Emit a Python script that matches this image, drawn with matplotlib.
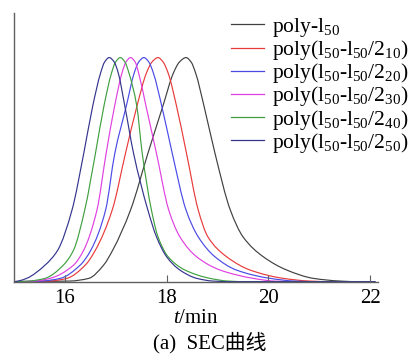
import matplotlib
matplotlib.use("Agg")
import matplotlib.pyplot as plt
from matplotlib.path import Path
from matplotlib.patches import PathPatch
from matplotlib.lines import Line2D

plt.rcParams['mathtext.fontset'] = 'custom'
plt.rcParams['mathtext.rm'] = 'Liberation Serif'
plt.rcParams['mathtext.it'] = 'Liberation Serif:italic'
plt.rcParams['font.family'] = ['Liberation Serif', 'Noto Sans CJK SC']

# Series labels (legend order)
labels = [
    r'poly-l$_\mathrm{50}$',
    r'poly(l$_\mathrm{50}$-l$_\mathrm{50}$/2$_\mathrm{10}$)',
    r'poly(l$_\mathrm{50}$-l$_\mathrm{50}$/2$_\mathrm{20}$)',
    r'poly(l$_\mathrm{50}$-l$_\mathrm{50}$/2$_\mathrm{30}$)',
    r'poly(l$_\mathrm{50}$-l$_\mathrm{50}$/2$_\mathrm{40}$)',
    r'poly(l$_\mathrm{50}$-l$_\mathrm{50}$/2$_\mathrm{50}$)',
]
colors = ['#404040', '#e83a3a', '#4a4ae6', '#e040e0', '#40a040', '#34348f']

# Read-off curve samples: elution time t (min) and normalised intensity
t_l50 = [15.0, 16.1, 16.47, 16.76, 16.94, 17.29, 17.63, 17.93, 18.13, 18.25, 18.38,
         18.48, 18.57, 18.73, 18.95, 19.25, 19.50, 19.90, 20.36, 20.88, 21.4, 21.8, 22.1]
y_l50 = [0.0, 0.003, 0.015, 0.074, 0.141, 0.32, 0.572, 0.787, 0.93, 0.98, 1.0,
         0.98, 0.93, 0.787, 0.572, 0.32, 0.20, 0.111, 0.052, 0.015, 0.003, 0.0, 0.0]

t_210 = [15.0, 15.7, 16.04, 16.40, 16.60, 16.93, 17.19, 17.42, 17.60, 17.71, 17.83,
         17.93, 18.03, 18.19, 18.39, 18.62, 18.81, 19.18, 19.64, 20.29, 20.8, 21.3, 22.1]
y_210 = [0.0, 0.003, 0.015, 0.074, 0.141, 0.32, 0.572, 0.787, 0.93, 0.98, 1.0,
         0.98, 0.93, 0.787, 0.572, 0.32, 0.20, 0.111, 0.052, 0.015, 0.003, 0.0, 0.0]

t_220 = [15.0, 15.55, 15.91, 16.30, 16.51, 16.80, 16.98, 17.21, 17.36, 17.45, 17.55,
         17.65, 17.74, 17.90, 18.11, 18.38, 18.62, 18.95, 19.37, 20.03, 20.5, 21.0, 22.1]
y_220 = [0.0, 0.003, 0.015, 0.074, 0.141, 0.32, 0.572, 0.787, 0.93, 0.98, 1.0,
         0.98, 0.93, 0.787, 0.572, 0.32, 0.20, 0.111, 0.052, 0.015, 0.003, 0.0, 0.0]

t_230 = [15.0, 15.4, 15.71, 16.17, 16.37, 16.63, 16.81, 16.98, 17.12, 17.20, 17.29,
         17.38, 17.45, 17.59, 17.80, 18.04, 18.26, 18.59, 19.05, 19.70, 20.1, 20.6, 22.1]
y_230 = [0.0, 0.003, 0.015, 0.074, 0.141, 0.32, 0.572, 0.787, 0.93, 0.98, 1.0,
         0.98, 0.93, 0.787, 0.572, 0.32, 0.20, 0.111, 0.052, 0.015, 0.003, 0.0, 0.0]

t_240 = [15.0, 15.3, 15.61, 15.97, 16.17, 16.39, 16.60, 16.77, 16.915, 16.995, 17.09,
         17.18, 17.26, 17.41, 17.52, 17.70, 17.83, 18.03, 18.36, 18.85, 19.2, 19.6, 22.1]
y_240 = [0.0, 0.003, 0.015, 0.074, 0.141, 0.32, 0.572, 0.787, 0.93, 0.98, 1.0,
         0.98, 0.93, 0.787, 0.572, 0.32, 0.20, 0.111, 0.052, 0.015, 0.003, 0.0, 0.0]

t_250 = [15.0, 15.1, 15.25, 15.61, 15.86, 16.14, 16.37, 16.55, 16.70, 16.78, 16.87,
         16.97, 17.05, 17.175, 17.35, 17.63, 17.80, 18.00, 18.26, 18.59, 18.9, 19.3, 22.1]
y_250 = [0.0, 0.004, 0.015, 0.074, 0.141, 0.32, 0.572, 0.787, 0.93, 0.98, 1.0,
         0.98, 0.93, 0.787, 0.572, 0.32, 0.20, 0.111, 0.052, 0.015, 0.003, 0.0, 0.0]

series_t = [t_l50, t_210, t_220, t_230, t_240, t_250]
series_y = [y_l50, y_210, y_220, y_230, y_240, y_250]

xticks = [16, 18, 20, 22]


def smooth_path(xs, ys):
    """Monotone (Fritsch-Carlson) Bezier path through the read points."""
    n = len(xs)
    h = [xs[i + 1] - xs[i] for i in range(n - 1)]
    d = [(ys[i + 1] - ys[i]) / h[i] for i in range(n - 1)]
    m = [0.0] * n
    m[0] = d[0]
    m[-1] = d[-1]
    for k in range(1, n - 1):
        if d[k - 1] * d[k] <= 0:
            m[k] = 0.0
        else:
            w1 = 2 * h[k] + h[k - 1]
            w2 = h[k] + 2 * h[k - 1]
            m[k] = (w1 + w2) / (w1 / d[k - 1] + w2 / d[k])
    verts = [(xs[0], ys[0])]
    codes = [Path.MOVETO]
    for i in range(n - 1):
        verts += [(xs[i] + h[i] / 3, ys[i] + m[i] * h[i] / 3),
                  (xs[i + 1] - h[i] / 3, ys[i + 1] - m[i + 1] * h[i] / 3),
                  (xs[i + 1], ys[i + 1])]
        codes += [Path.CURVE4] * 3
    return Path(verts, codes)


fig = plt.figure(figsize=(4.09, 3.54), dpi=100)
ax = fig.add_axes([0.0342, 0.2042, 0.924 - 0.0342, 0.964 - 0.2042])

handles = []
for t, y, c, lab in zip(series_t, series_y, colors, labels):
    ax.add_patch(PathPatch(smooth_path(t, y), fill=False, edgecolor=c, lw=0.85))
    handles.append(Line2D([], [], color=c, lw=0.9, label=lab))

ax.set_xlim(15, 22.15)
ax.set_ylim(0, 1.2)
ax.set_xticks(xticks)
ax.set_xticklabels([str(v) for v in xticks])
ax.set_yticks([])
ax.tick_params(axis='x', direction='in', length=5, width=0.8, color='#606060',
               labelsize=15, pad=5)
for s in ['top', 'right']:
    ax.spines[s].set_visible(False)
for s in ['left', 'bottom']:
    ax.spines[s].set_color('#606060')
    ax.spines[s].set_linewidth(1.0)
    ax.spines[s].set_zorder(3)

ax.set_xlabel(r'$\it{t}$/min', fontsize=15, labelpad=1)

leg = ax.legend(handles=handles, loc='upper right', bbox_to_anchor=(1.125, 1.044),
                frameon=False, fontsize=15.5, handlelength=1.55, handletextpad=0.36,
                labelspacing=-0.04, borderpad=0.2)

fig.text(0.513, 0.031, '(a)  SEC曲线', ha='center', va='center', fontsize=15)

fig.savefig('out.png', dpi=100)
